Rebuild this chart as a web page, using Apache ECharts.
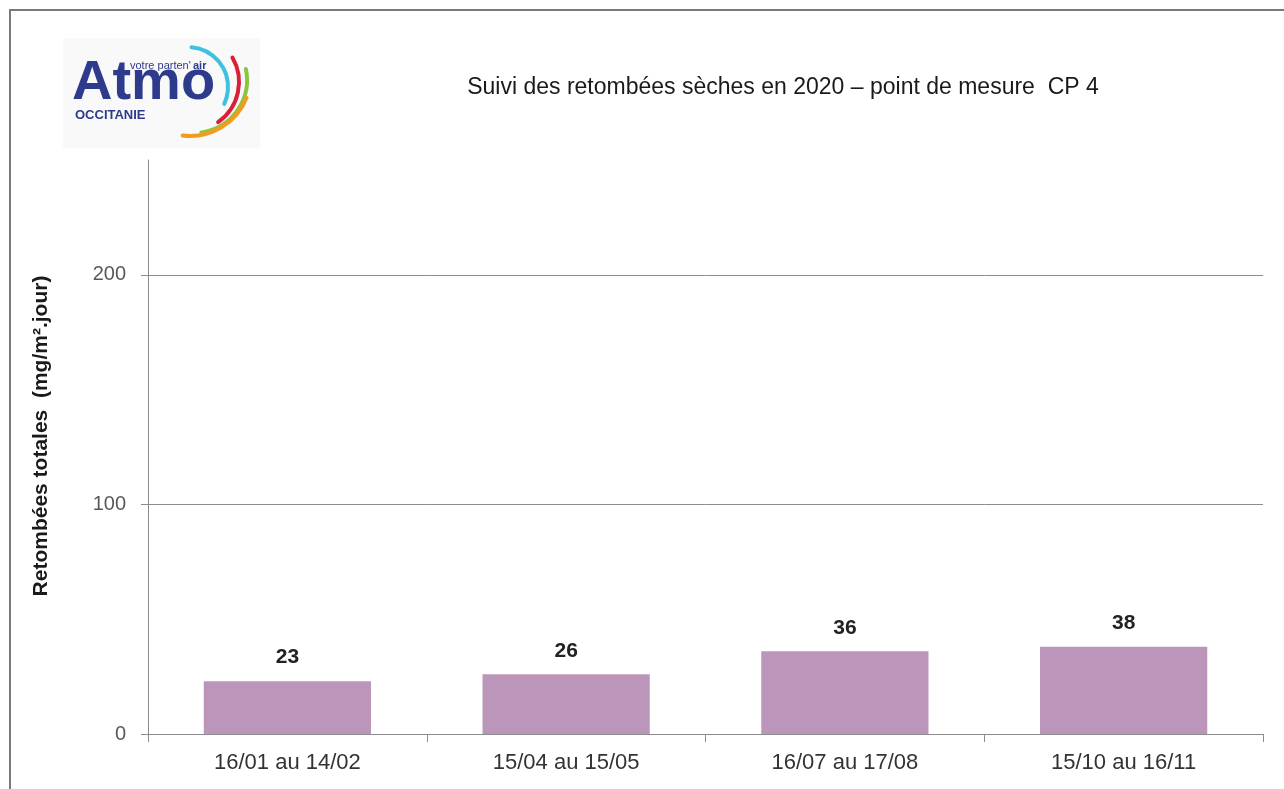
<!DOCTYPE html>
<html>
<head>
<meta charset="utf-8">
<script src="https://cdn.jsdelivr.net/npm/echarts@6/dist/echarts.min.js"></script>
<style>
html,body{margin:0;padding:0;background:#fff;}
#chart{width:1284px;height:789px;}
</style>
</head>
<body>
<div id="chart"></div>
<script>
const categories = ['16/01 au 14/02', '15/04 au 15/05', '16/07 au 17/08', '15/10 au 16/11'];
const values = [23, 26, 36, 38];
const yTicks = [0, 100, 200];
const yMax = 250;
const titleText = 'Suivi des retombées sèches en 2020 – point de mesure  CP 4';
const yName = 'Retombées totales  (mg/m².jour)';

const chart = echarts.init(document.getElementById('chart'), null, {renderer: 'canvas'});
const font = '"Liberation Sans", Arial, sans-serif';

chart.setOption({
  backgroundColor: '#ffffff',
  animation: false,
  title: {
    text: titleText,
    left: 778, top: 71,
    textAlign: 'center',
    textStyle: {fontFamily: font, fontSize: 23, fontWeight: 'normal', color: '#1a1a1a'}
  },
  grid: {left: 148, right: 21, top: 160, bottom: 55, containLabel: false},
  xAxis: {
    type: 'category',
    data: categories,
    axisLine: {lineStyle: {color: '#8c8c8c', width: 1}},
    axisTick: {show: true, length: 8, lineStyle: {color: '#8c8c8c'}},
    axisLabel: {fontFamily: font, fontSize: 22, color: '#333333', margin: 18}
  },
  yAxis: {
    type: 'value',
    min: 0, max: yMax,
    name: yName,
    nameLocation: 'middle',
    nameGap: 96,
    nameTextStyle: {fontFamily: font, fontSize: 21, fontWeight: 'bold', color: '#1a1a1a', padding: [0, 0, 0, 22]},
    axisLine: {show: true, lineStyle: {color: '#8c8c8c', width: 1}},
    axisTick: {show: true, length: 7, customValues: yTicks, lineStyle: {color: '#8c8c8c'}},
    axisLabel: {fontFamily: font, fontSize: 20, color: '#595959', margin: 22, customValues: yTicks},
    splitLine: {show: true, lineStyle: {color: '#8c8c8c', width: 1}}
  },
  series: [{
    type: 'bar',
    data: values,
    barWidth: '60%',
    itemStyle: {color: '#bc96ba'},
    label: {
      show: true, position: 'top', distance: 13,
      fontFamily: font, fontSize: 21, fontWeight: 'bold', color: '#222222'
    }
  }],
  graphic: [
    {type: 'rect', shape: {x: 10, y: 10, width: 1400, height: 900}, style: {fill: 'none', stroke: '#7a7a7a', lineWidth: 2}, silent: true},
    {type: 'rect', shape: {x: 63, y: 38, width: 197, height: 110}, style: {fill: '#f9f9f9'}, silent: true},
    {type: 'text', x: 72, y: 56, style: {text: 'Atmo', fontFamily: font, fontSize: 56, fontWeight: 'bold', fill: '#2e3a8c'}, silent: true},
    {type: 'text', x: 130, y: 60, style: {text: "votre parten'", fontFamily: font, fontSize: 11, fill: '#2e3a8c'}, silent: true},
    {type: 'text', x: 193, y: 60, style: {text: 'air', fontFamily: font, fontSize: 11, fontWeight: 'bold', fill: '#2e3a8c'}, silent: true},
    {type: 'text', x: 75, y: 109, style: {text: 'OCCITANIE', fontFamily: font, fontSize: 13, fontWeight: 'bold', fill: '#2e3a8c'}, silent: true},
    {type: 'arc', shape: {cx: 188, cy: 87, r: 40, startAngle: -85 * Math.PI / 180, endAngle: 25 * Math.PI / 180}, style: {stroke: '#3ec0e0', lineWidth: 4, fill: 'none', lineCap: 'round'}, silent: true},
    {type: 'arc', shape: {cx: 190, cy: 82, r: 49, startAngle: -30 * Math.PI / 180, endAngle: 55 * Math.PI / 180}, style: {stroke: '#d9203a', lineWidth: 4, fill: 'none', lineCap: 'round'}, silent: true},
    {type: 'arc', shape: {cx: 194, cy: 80, r: 53, startAngle: -12 * Math.PI / 180, endAngle: 82 * Math.PI / 180}, style: {stroke: '#8cc63f', lineWidth: 4, fill: 'none', lineCap: 'round'}, silent: true},
    {type: 'arc', shape: {cx: 190, cy: 75, r: 61, startAngle: 22 * Math.PI / 180, endAngle: 97 * Math.PI / 180}, style: {stroke: '#f29b1d', lineWidth: 4, fill: 'none', lineCap: 'round'}, silent: true}
  ]
});
</script>
</body>
</html>
